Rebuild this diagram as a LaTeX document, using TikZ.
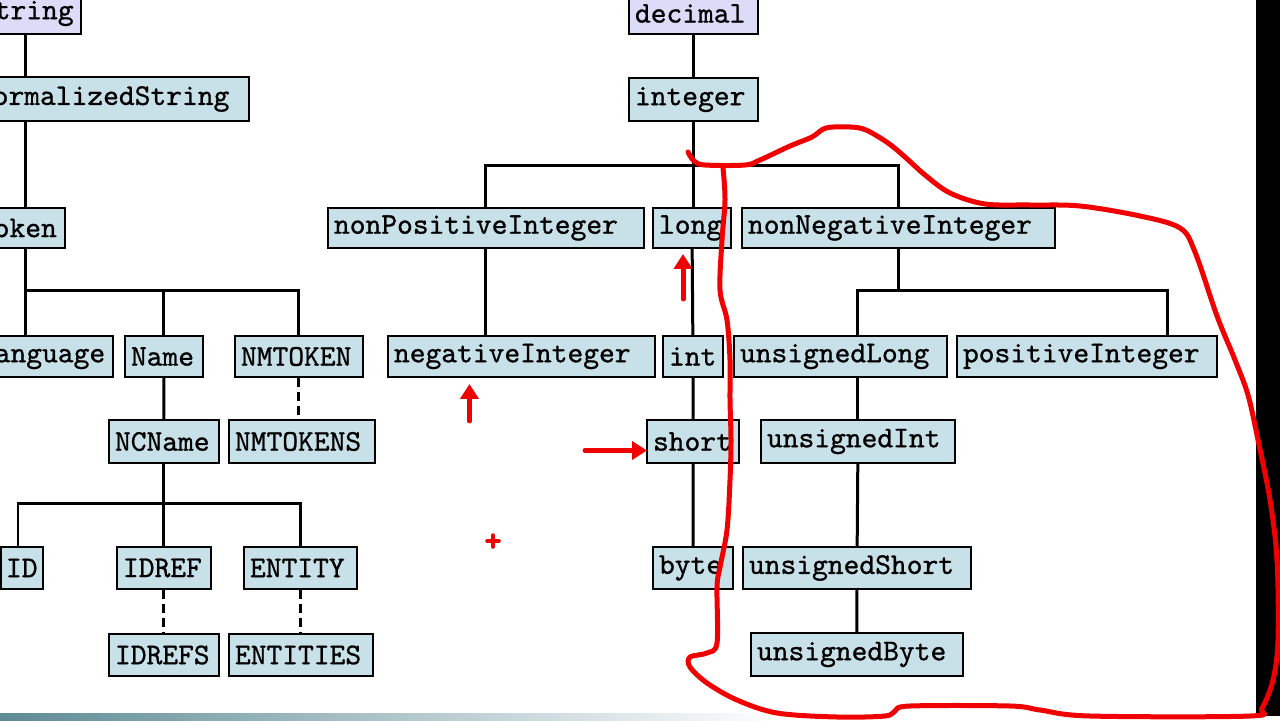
\documentclass[tikz,border=0pt]{standalone}
\usepackage{fontspec}
\newfontfamily\boxfont{lmmono10-regular.otf}[FakeBold=0.9]
\usetikzlibrary{arrows.meta,calc}
\definecolor{BoxBlue}{HTML}{C8E0E8}
\definecolor{BoxLilac}{HTML}{DCDCF8}
\definecolor{PenRed}{HTML}{F00000}
\definecolor{BarTeal}{HTML}{5E8B95}

\begin{document}
\begin{tikzpicture}[x=0.02cm,y=-0.02cm,
    tbox/.style={draw=black,line width=0.04cm,fill=BoxBlue,anchor=north west,
      inner xsep=0.12cm,inner ysep=0pt,align=left,
      font=\boxfont\fontsize{17.1}{18}\selectfont},
    conn/.style={line width=0.06cm},
    dconn/.style={conn,dash pattern=on 0.18cm off 0.1cm},
    pen/.style={draw=PenRed,line width=0.1cm,line cap=round,line join=round},
    penarrow/.style={pen,-{Triangle[width=0.36cm,length=0.3cm]}}]
  \useasboundingbox (0,0) rectangle (1280,720);
  \clip (0,0) rectangle (1280,720);
  \fill[white] (0,0) rectangle (1280,720);
  \fill[black] (1256,0) rectangle (1280,716);
  \shade[left color=BarTeal,right color=white] (0,713) rectangle (780,720);

  % string branch
  \node[tbox,fill=BoxLilac,text width=1.92cm,minimum height=0.82cm] (string) at (-28,-8) {string};
  \node[tbox,text width=5.32cm,minimum height=0.88cm] (normstr) at (-30,76) {normalizedString};
  \node[tbox,text width=1.62cm,minimum height=0.80cm] (token) at (-29,207) {token};
  \node[tbox,text width=2.56cm,minimum height=0.82cm] (language) at (-28,335) {language};
  \node[tbox,text width=1.32cm,minimum height=0.82cm] (name) at (124,335) {Name};
  \node[tbox,text width=2.32cm,minimum height=0.82cm] (nmtoken) at (234,335) {NMTOKEN};
  \node[tbox,text width=1.96cm,minimum height=0.86cm] (ncname) at (108,419) {NCName};
  \node[tbox,text width=2.68cm,minimum height=0.86cm] (nmtokens) at (228,419) {NMTOKENS};
  \node[tbox,text width=0.64cm,inner xsep=0.1cm,minimum height=0.84cm] (id) at (0,546) {ID};
  \node[tbox,text width=1.64cm,minimum height=0.84cm] (idref) at (116,546) {IDREF};
  \node[tbox,text width=2.02cm,minimum height=0.84cm] (entity) at (243,546) {ENTITY};
  \node[tbox,text width=1.96cm,minimum height=0.84cm] (idrefs) at (108,633) {IDREFS};
  \node[tbox,text width=2.64cm,minimum height=0.84cm] (entities) at (228,633) {ENTITIES};

  % decimal branch
  \node[tbox,fill=BoxLilac,text width=2.34cm,minimum height=0.82cm] (decimal) at (628,-8) {decimal};
  \node[tbox,text width=2.34cm,minimum height=0.86cm] (integer) at (628,77) {integer};
  \node[tbox,text width=6.08cm,minimum height=0.80cm] (nonpos) at (327,207) {nonPositiveInteger};
  \node[tbox,text width=1.32cm,minimum height=0.80cm] (long) at (652,207) {long};
  \node[tbox,text width=6.02cm,minimum height=0.80cm] (nonneg) at (741,207) {nonNegativeInteger};
  \node[tbox,text width=5.10cm,minimum height=0.82cm] (negint) at (387,335) {negativeInteger};
  \node[tbox,text width=0.96cm,minimum height=0.82cm] (int) at (662,335) {int};
  \node[tbox,text width=4.02cm,minimum height=0.82cm] (ulong) at (733,335) {unsignedLong};
  \node[tbox,text width=4.96cm,minimum height=0.82cm] (posint) at (956,335) {positiveInteger};
  \node[tbox,text width=1.60cm,minimum height=0.86cm] (short) at (646,419) {short};
  \node[tbox,text width=3.64cm,minimum height=0.86cm] (uint) at (760,419) {unsignedInt};
  \node[tbox,text width=1.36cm,minimum height=0.84cm] (byte) at (652,546) {byte};
  \node[tbox,text width=4.32cm,minimum height=0.84cm] (ushort) at (742,546) {unsignedShort};
  \node[tbox,text width=4.00cm,minimum height=0.86cm] (ubyte) at (750,632) {unsignedByte};

  % bus points
  \coordinate (busA) at (25,290);
  \coordinate (busB) at (18,503);
  \coordinate (busC) at (692,165);
  \coordinate (busDl) at (857,290);
  \coordinate (busDr) at (1167,290);

  % left tree
  \draw[conn] (string.south -| busA) -- (normstr.north -| busA);
  \draw[conn] (normstr.south -| busA) -- (token.north -| busA);
  \draw[conn] (token.south -| busA) -- (busA);
  \draw[conn] (language.north -| busA) -- (busA) -- (nmtoken.north |- busA) -- (nmtoken.north);
  \draw[conn] (name.north |- busA) -- (name.north);
  \draw[conn] (name) -- (ncname);
  \draw[dconn] (nmtoken.south) -- (nmtoken.south |- nmtokens.north);
  \draw[conn] (ncname.south) -- (ncname.south |- busB);
  \draw[conn] (id.north -| busB) -- (busB) -- (entity.north |- busB) -- (entity.north);
  \draw[conn] (idref.north |- busB) -- (idref.north);
  \draw[dconn] (idref.south) -- (idref.south |- idrefs.north);
  \draw[dconn] (entity.south) -- (entity.south |- entities.north);

  % right tree
  \draw[conn] (decimal) -- (integer);
  \draw[conn] (integer.south) -- (long.north -| integer.south);
  \draw[conn] (nonpos.north) |- (busC) -| (nonneg.north);
  \draw[conn] (nonpos.south) -- (nonpos.south |- negint.north);
  \draw[conn] (long) -- (int);
  \draw[conn] (int) -- (short);
  \draw[conn] (short) -- (byte);
  \draw[conn] (nonneg.south) -- (nonneg.south |- busDl);
  \draw[conn] (ulong.north -| busDl) -- (busDl) -- (busDr) -- (posint.north -| busDr);
  \draw[conn] (ulong.south -| uint) -- (uint);
  \draw[conn] (uint) -- (ushort);
  \draw[conn] (ushort) -- (ubyte);

  % red marks
  \draw[pen] plot[smooth,tension=0.55] coordinates {
    (688,152) (694,161) (705,165) (745,165) (760,160) (790,146) (812,137)
    (826,128) (850,127) (866,130) (888,143) (905,157) (925,175) (950,193)
    (985,204) (1030,205) (1080,206) (1140,216) (1180,228) (1195,252)
    (1217,316) (1235,360) (1248,395) (1258,440) (1270,500) (1277,560)
    (1278,640) (1273,680) (1262,708) (1250,716) (1090,716) (1040,710)
    (1010,706) (910,706) (895,711) (885,716) (837,717) (777,713) (737,700)
    (707,683) (690,667) (690,657) (707,653) (717,643) (717,587) (720,567)
    (727,530) (730,480) (731,440) (730,400) (730,360) (727,320) (720,290)
    (722,240) (725,200) (723,168)};
  \draw[penarrow] ($(long.south)+(-9,50)$) -- ($(long.south)+(-9,5)$);
  \draw[penarrow] ($(negint.south)+(-52,43)$) -- ($(negint.south)+(-52,6)$);
  \draw[penarrow] ($(short.west)+(-61,9)$) -- ($(short.west)+(1,9)$);
  \draw[pen,line width=0.07cm] (487,541) -- (499,541) (493,535) -- (493,547);
\end{tikzpicture}
\end{document}
